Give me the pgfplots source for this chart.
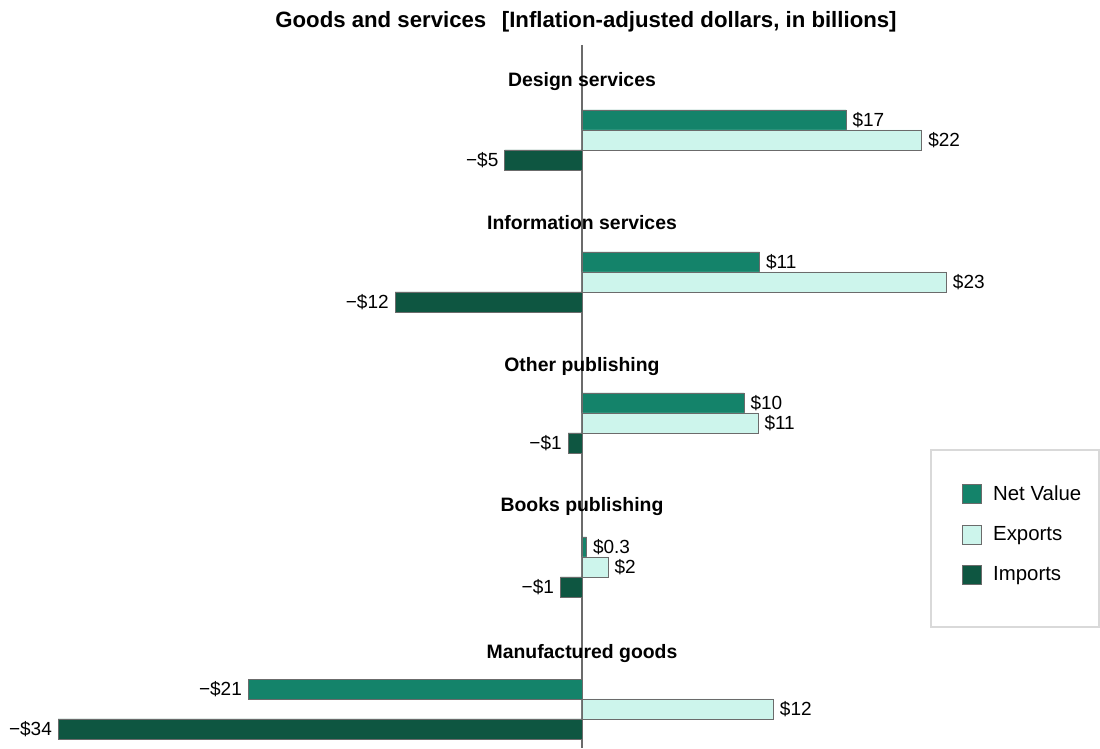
\documentclass[border=0pt]{standalone}
\usepackage{pgfplots}
\pgfplotsset{compat=1.18}
\usepackage{fontspec}
\setmainfont{Liberation Sans}
\definecolor{netc}{HTML}{14836A}
\definecolor{expc}{HTML}{CDF5EC}
\definecolor{impc}{HTML}{0E5641}
\definecolor{edgec}{HTML}{6B6B6B}
\begin{document}
\begin{tikzpicture}
\begin{axis}[
  width=550pt, height=374pt, scale only axis,
  xmin=-37.67, xmax=33.53, ymin=0, ymax=748,
  hide axis, clip=false,
  xbar, bar width=20, bar shift=0pt,
  point meta=explicit symbolic,
  nodes near coords,
  every node near coord/.append style={font=\fontsize{9.5}{11}\selectfont, text=black, inner sep=3pt},
  legend style={at={(rel axis cs:0.8745,0.353)}, anchor=north west, draw=none, fill=none,
    font=\fontsize{10.2}{12}\selectfont, row sep=10.3pt, inner sep=0pt,
    nodes={inner sep=0pt, anchor=west},
    /tikz/every odd column/.append style={column sep=5.5pt}},
  legend cell align=left,
  legend image code/.code={\draw[#1, draw=edgec] (0pt,-4.75pt) rectangle (9.5pt,4.75pt);},
]
\path (rel axis cs:0,0) rectangle (rel axis cs:1,1);
% zero line
\draw[edgec, line width=0.6pt] (axis cs:0,703) -- (axis cs:0,0);
% Net value (positive)
\addplot[fill=netc, draw=edgec, nodes near coords style={anchor=west}] coordinates {
  (17.1,628) [\$17]
  (11.5,486) [\$11]
  (10.5,345) [\$10]
  (0.3,201) [\$0.3]
};
\addlegendentry{Net Value}
% Exports
\addplot[fill=expc, draw=edgec, nodes near coords style={anchor=west}] coordinates {
  (22.0,608) [\$22]
  (23.6,466) [\$23]
  (11.4,325) [\$11]
  (1.7,181) [\$2]
  (12.4,39) [\$12]
};
\addlegendentry{Exports}
% Imports
\addplot[fill=impc, draw=edgec, nodes near coords style={anchor=east}] coordinates {
  (-5.0,588) [−\$5]
  (-12.1,446) [−\$12]
  (-0.9,305) [−\$1]
  (-1.4,161) [−\$1]
  (-33.9,19) [−\$34]
};
\addlegendentry{Imports}
% Net value (negative)
\addplot[fill=netc, draw=edgec, forget plot, nodes near coords style={anchor=east}] coordinates {
  (-21.6,59) [−\$21]
};
% legend frame
\draw[black!15, line width=0.6pt] (rel axis cs:0.8464,0.3984) rectangle (rel axis cs:0.9991,0.1618);
% titles
\node[font=\bfseries\fontsize{11.1}{13}\selectfont] at (rel axis cs:0.5327,0.9706) {Goods and services\hspace{0.7em}[Inflation-adjusted dollars, in billions]};
\begin{scope}[every node/.style={font=\bfseries\fontsize{9.7}{11}\selectfont}]
\node at (axis cs:0,666) {Design services};
\node at (axis cs:0,525) {Information services};
\node at (axis cs:0,381) {Other publishing};
\node at (axis cs:0,241) {Books publishing};
\node at (axis cs:0,94) {Manufactured goods};
\end{scope}
\end{axis}
\end{tikzpicture}
\end{document}
